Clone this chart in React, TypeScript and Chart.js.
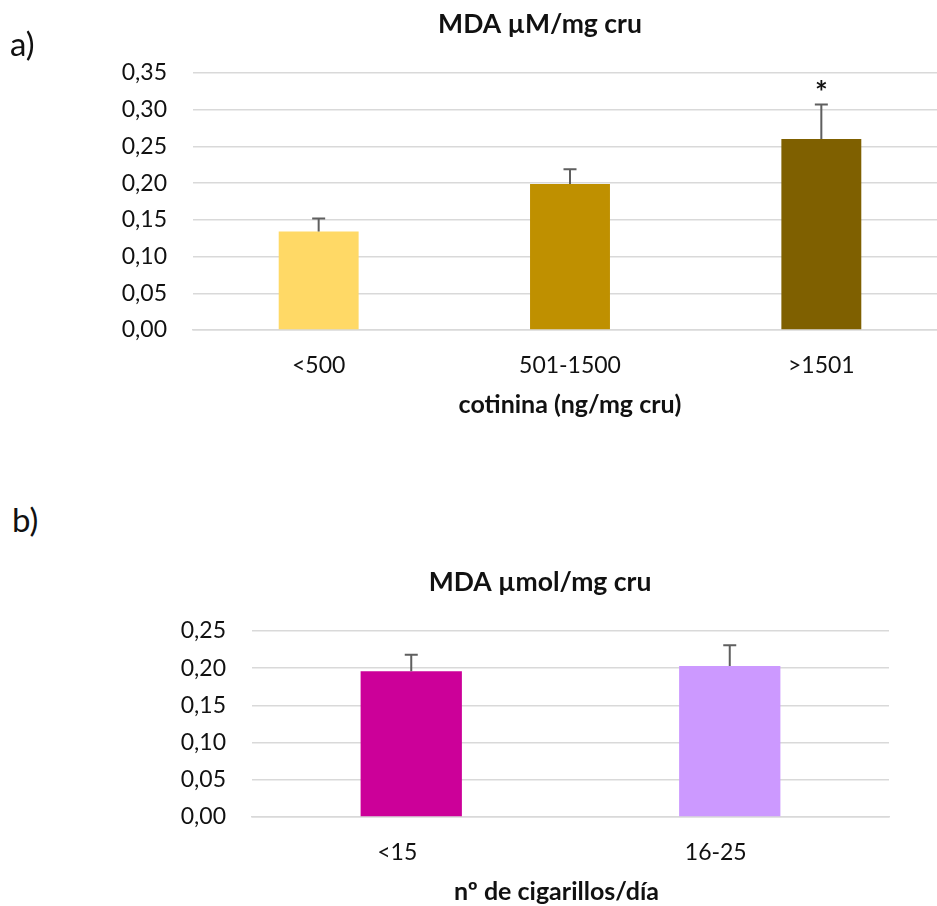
import React, { useEffect, useRef } from 'react';
import { Chart, registerables } from 'chart.js';

Chart.register(...registerables);

// ---- Panel a) data ----
const catsA = ['<500', '501-1500', '>1501'];
const valsA = [0.134, 0.199, 0.26];
const errA = [0.018, 0.02, 0.047];
const sigA = ['', '', '*'];
const colorsA = ['#FFD966', '#BF9000', '#7F6000'];
const titleA = 'MDA µM/mg cru';
const xTitleA = 'cotinina (ng/mg cru)';
const maxA = 0.35;

// ---- Panel b) data ----
const catsB = ['<15', '16-25'];
const valsB = [0.196, 0.203];
const errB = [0.022, 0.028];
const sigB = ['', ''];
const colorsB = ['#CC0099', '#CC99FF'];
const titleB = 'MDA µmol/mg cru';
const xTitleB = 'nº de cigarillos/día';
const maxB = 0.25;

const tickStep = 0.05;
const FONT = 'Lato';
const TEXT = '#111111';

const errorBarPlugin = {
  id: 'errorBars',
  afterDatasetsDraw(chart: any, _args: any, opts: any) {
    const meta = chart.getDatasetMeta(0);
    const y = chart.scales.y;
    const ctx = chart.ctx;
    ctx.save();
    meta.data.forEach((bar: any, i: number) => {
      const v = opts.values[i];
      const e = opts.errors[i];
      const yTop = y.getPixelForValue(v + e);
      const yBar = y.getPixelForValue(v);
      ctx.strokeStyle = '#5f5f5f';
      ctx.lineWidth = 2;
      ctx.beginPath();
      ctx.moveTo(bar.x, yBar);
      ctx.lineTo(bar.x, yTop);
      ctx.moveTo(bar.x - 6.5, yTop);
      ctx.lineTo(bar.x + 6.5, yTop);
      ctx.stroke();
      const s = opts.sig[i];
      if (s) {
        ctx.fillStyle = TEXT;
        ctx.font = `bold 30px ${FONT}`;
        ctx.textAlign = 'center';
        ctx.textBaseline = 'alphabetic';
        ctx.fillText(s, bar.x, yTop - 2);
      }
    });
    ctx.restore();
  },
};

// Chart title (centred on the whole chart object) and x-axis caption
const panelTextPlugin = {
  id: 'panelText',
  afterDraw(chart: any, _args: any, opts: any) {
    const { ctx, chartArea } = chart;
    ctx.save();
    ctx.fillStyle = TEXT;
    ctx.textAlign = 'center';
    ctx.textBaseline = 'alphabetic';
    ctx.font = `bold 26.5px ${FONT}`;
    ctx.fillText(opts.title, opts.titleX, opts.titleBaseline);
    ctx.font = `bold 25px ${FONT}`;
    ctx.textBaseline = 'middle';
    ctx.fillText(
      opts.caption,
      (chartArea.left + chartArea.right) / 2 + opts.captionDx,
      chartArea.bottom + opts.captionDy
    );
    ctx.restore();
  },
};

type PanelProps = {
  top: number;
  width: number;
  height: number;
  cats: string[];
  vals: number[];
  errs: number[];
  sig: string[];
  colors: string[];
  title: string;
  xTitle: string;
  max: number;
  padLeft: number;
  padRight: number;
  labelOffset: number;
  captionDx: number;
};

function BarPanel(p: PanelProps) {
  const ref = useRef<HTMLCanvasElement | null>(null);
  useEffect(() => {
    if (!ref.current) return;
    const chart = new Chart(ref.current, {
      type: 'bar',
      data: {
        labels: p.cats,
        datasets: [
          {
            data: p.vals,
            backgroundColor: p.colors,
            borderWidth: 0,
            categoryPercentage: 1,
            barPercentage: 0.318,
          },
        ],
      },
      options: {
        responsive: false,
        animation: false,
        layout: { padding: { left: p.padLeft, right: p.padRight, top: 73, bottom: 0 } },
        plugins: {
          legend: { display: false },
          tooltip: { enabled: false },
          title: { display: false },
          errorBars: { values: p.vals, errors: p.errs, sig: p.sig },
          panelText: {
            title: p.title,
            titleX: 540,
            titleBaseline: 33,
            caption: p.xTitle,
            captionDx: p.captionDx,
            captionDy: 75,
          },
        } as any,
        scales: {
          x: {
            z: 1,
            grid: { display: false },
            border: { display: true, color: '#D9D9D9', width: 1.5 },
            ticks: {
              color: TEXT,
              font: { family: FONT, size: 23 },
              padding: 14,
              labelOffset: p.labelOffset,
            },
            afterFit: (s: any) => {
              s.height = 110;
            },
          },
          y: {
            min: 0,
            max: p.max,
            grid: { color: '#D9D9D9', lineWidth: 1.5, drawTicks: false },
            border: { display: false },
            ticks: {
              stepSize: tickStep,
              color: TEXT,
              font: { family: FONT, size: 23 },
              padding: 26,
              callback: (v: any) => Number(v).toFixed(2).replace('.', ','),
            },
            afterFit: (s: any) => {
              s.width = 100;
            },
          },
        },
      },
      plugins: [errorBarPlugin, panelTextPlugin],
    } as any);
    return () => chart.destroy();
  }, []);
  return (
    <canvas
      ref={ref}
      width={p.width}
      height={p.height}
      style={{ position: 'absolute', left: 0, top: p.top, width: p.width, height: p.height }}
    />
  );
}

const labelStyle: React.CSSProperties = {
  position: 'absolute',
  fontFamily: FONT,
  fontSize: 33,
  lineHeight: '33px',
  color: TEXT,
};

export default function App() {
  return (
    <div
      style={{
        position: 'absolute',
        left: 0,
        top: 0,
        width: 937,
        height: 906,
        overflow: 'hidden',
        background: '#ffffff',
      }}
    >
      <BarPanel
        top={0}
        width={960}
        height={440}
        cats={catsA}
        vals={valsA}
        errs={errA}
        sig={sigA}
        colors={colorsA}
        title={titleA}
        xTitle={xTitleA}
        max={maxA}
        padLeft={93}
        padRight={13}
        labelOffset={0}
        captionDx={0}
      />
      <BarPanel
        top={558}
        width={937}
        height={369}
        cats={catsB}
        vals={valsB}
        errs={errB}
        sig={sigB}
        colors={colorsB}
        title={titleB}
        xTitle={xTitleB}
        max={maxB}
        padLeft={152}
        padRight={48}
        labelOffset={-14}
        captionDx={-14}
      />
      <div style={{ ...labelStyle, left: 10, top: 27 }}>a)</div>
      <div style={{ ...labelStyle, left: 12, top: 503 }}>b)</div>
    </div>
  );
}
